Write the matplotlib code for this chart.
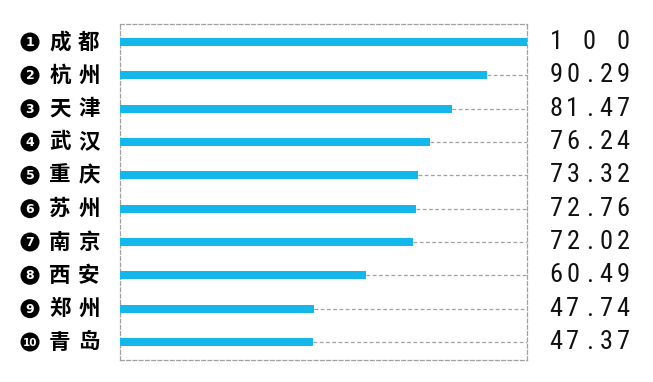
import matplotlib
matplotlib.use("Agg")
import matplotlib.pyplot as plt
from matplotlib.patches import Ellipse
from matplotlib import font_manager

cities = ["成都", "杭州", "天津", "武汉", "重庆", "苏州", "南京", "西安", "郑州", "青岛"]
values = [100, 90.29, 81.47, 76.24, 73.32, 72.76, 72.02, 60.49, 47.74, 47.37]
value_labels = ["100", "90.29", "81.47", "76.24", "73.32", "72.76", "72.02", "60.49", "47.74", "47.37"]

BLUE = "#14b7ec"
GRAY = "#a0a0a0"
cjk = ["Noto Sans CJK SC", "DejaVu Sans"]

installed = {f.name for f in font_manager.fontManager.ttflist}
num_family = [f for f in ["Roboto Condensed", "Liberation Sans Narrow", "Open Sans Condensed",
                          "Roboto", "DejaVu Sans"] if f in installed]

W, H = 653, 382
fig = plt.figure(figsize=(W / 100, H / 100), dpi=100)
ax = fig.add_axes([120 / W, (H - 360) / H, (527 - 120) / W, (360 - 24) / H])

n = len(values)
ypos = list(range(n))
ax.barh(ypos, values, height=0.24, color=BLUE, zorder=3)
for y, v in zip(ypos, values):
    if v < 100:
        ax.plot([v, 100], [y, y], color=GRAY, lw=0.9, ls=(0, (3, 2)), zorder=2)

ax.set_xlim(0, 100)
ax.set_ylim(n - 1 + 0.54, -0.54)
ax.set_xticks([])
ax.set_yticks([])
for s in ax.spines.values():
    s.set_color(GRAY)
    s.set_linewidth(0.9)
    s.set_linestyle((0, (3, 2)))

inv = fig.transFigure.inverted()

# left labels: badge + city name
for i, (y, c) in enumerate(zip(ypos, cities)):
    ty = inv.transform(ax.transData.transform((0, y)))[1]
    e = Ellipse((30 / W, ty), 19 / W, 19 / H, transform=fig.transFigure,
                facecolor="black", edgecolor="none")
    fig.patches.append(e)
    fig.text(30 / W, ty - 0.5 / H, str(i + 1), color="white", ha="center", va="center",
             fontsize=9 if i < 9 else 7.5, fontweight="bold", family=["DejaVu Sans"])
    for k, ch in enumerate(c):
        fig.text((60 + k * 29) / W, ty, ch, ha="center", va="center",
                 fontsize=15.5, fontweight="bold", family=cjk)

# right value labels, justified across a fixed width
x0, x1 = 556, 623
for y, lab in zip(ypos, value_labels):
    ty = inv.transform(ax.transData.transform((0, y)))[1]
    m = len(lab)
    for k, ch in enumerate(lab):
        xx = x0 + (x1 - x0) * k / (m - 1)
        fig.text(xx / W, ty, ch, ha="center", va="center", fontsize=19,
                 family=num_family, color="#111111")

fig.savefig("out.png", dpi=100)
